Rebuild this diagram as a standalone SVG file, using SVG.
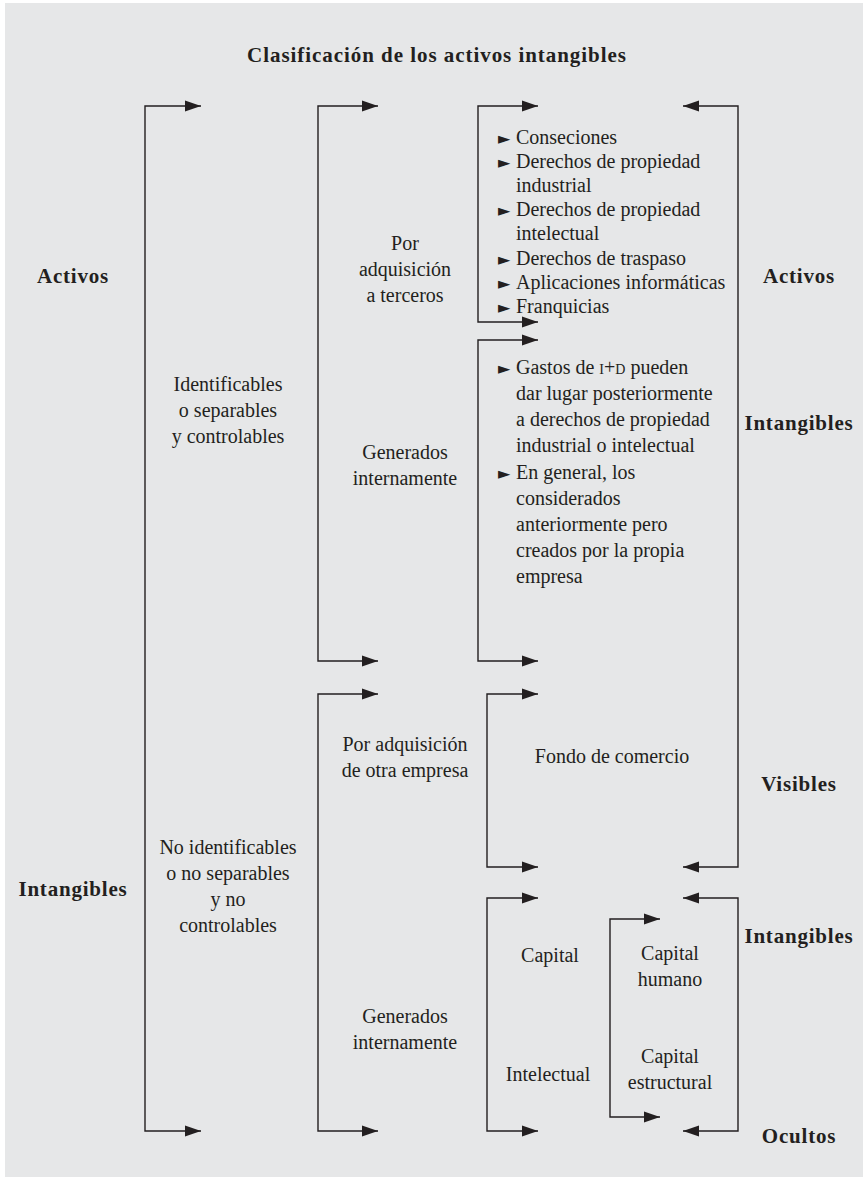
<svg xmlns="http://www.w3.org/2000/svg" width="865" height="1178" viewBox="0 0 865 1178">
  <style>
    .bg { fill: #e6e7e8; }
    .br { fill: none; stroke: #231f20; stroke-width: 1.4; marker-start: url(#ah); marker-end: url(#ah); }
    text { font-family: "Liberation Serif", "Times New Roman", serif; fill: #231f20; }
    .t { font-size: 20px; }
    .c { text-anchor: middle; }
    .b { font-weight: bold; font-size: 21px; letter-spacing: 0.8px; }
    .ttl { letter-spacing: 0.95px; }
    .bul { font-family: "DejaVu Sans", sans-serif; font-size: 16px; }
    .sc { font-variant: small-caps; }
  </style>
  <defs>
    <marker id="ah" viewBox="0 0 16 12" markerWidth="16" markerHeight="12" refX="16" refY="6" markerUnits="userSpaceOnUse" orient="auto-start-reverse">
      <path d="M0,0.5 L16,6 L0,11.5 z" fill="#231f20"/>
    </marker>
  </defs>

  <rect class="bg" x="5" y="3" width="858" height="1174"/>

  <text id="title" class="b ttl c" x="437" y="62">Clasificación de los activos intangibles</text>

  <!-- bracket connectors -->
  <g id="connectors">
    <path class="br" d="M201,106 H145 V1131 H201"/>
    <path class="br" d="M378,106 H318 V661 H378"/>
    <path class="br" d="M378,694 H318 V1131 H378"/>
    <path class="br" d="M538,106 H478 V322 H538"/>
    <path class="br" d="M538,340 H478 V661 H538"/>
    <path class="br" d="M538,694 H487 V867 H538"/>
    <path class="br" d="M538,898 H487 V1131 H538"/>
    <path class="br" d="M660,919 H610 V1117 H660"/>
    <path class="br" d="M683,106 H738 V867 H683"/>
    <path class="br" d="M683,898 H738 V1131 H683"/>
  </g>

  <!-- left column -->
  <g id="activos-left"><text class="b c" x="73" y="283">Activos</text></g>
  <g id="intangibles-left"><text class="b c" x="73" y="896">Intangibles</text></g>

  <!-- second column -->
  <g id="identificables">
    <text class="t c" x="228" y="391">Identificables</text>
    <text class="t c" x="228" y="417">o separables</text>
    <text class="t c" x="228" y="443">y controlables</text>
  </g>
  <g id="no-identificables">
    <text class="t c" x="228" y="854">No identificables</text>
    <text class="t c" x="228" y="880">o no separables</text>
    <text class="t c" x="228" y="906">y no</text>
    <text class="t c" x="228" y="932">controlables</text>
  </g>

  <!-- third column -->
  <g id="adq-terceros">
    <text class="t c" x="405" y="250">Por</text>
    <text class="t c" x="405" y="276">adquisición</text>
    <text class="t c" x="405" y="302">a terceros</text>
  </g>
  <g id="generados-1">
    <text class="t c" x="405" y="459">Generados</text>
    <text class="t c" x="405" y="485">internamente</text>
  </g>
  <g id="adq-empresa">
    <text class="t c" x="405" y="751">Por adquisición</text>
    <text class="t c" x="405" y="777">de otra empresa</text>
  </g>
  <g id="generados-2">
    <text class="t c" x="405" y="1023">Generados</text>
    <text class="t c" x="405" y="1049">internamente</text>
  </g>

  <!-- fourth column -->
  <g id="lista-adquiridos">
    <text class="t" x="498" y="144"><tspan class="bul">►</tspan><tspan x="516">Conseciones</tspan></text>
    <text class="t" x="498" y="168"><tspan class="bul">►</tspan><tspan x="516">Derechos de propiedad</tspan></text>
    <text class="t" x="516" y="192">industrial</text>
    <text class="t" x="498" y="216"><tspan class="bul">►</tspan><tspan x="516">Derechos de propiedad</tspan></text>
    <text class="t" x="516" y="240">intelectual</text>
    <text class="t" x="498" y="265"><tspan class="bul">►</tspan><tspan x="516">Derechos de traspaso</tspan></text>
    <text class="t" x="498" y="289"><tspan class="bul">►</tspan><tspan x="516">Aplicaciones informáticas</tspan></text>
    <text class="t" x="498" y="313"><tspan class="bul">►</tspan><tspan x="516">Franquicias</tspan></text>
  </g>
  <g id="lista-generados">
    <text class="t" x="498" y="374"><tspan class="bul">►</tspan><tspan x="516">Gastos de <tspan class="sc">i+d</tspan> pueden</tspan></text>
    <text class="t" x="516" y="400">dar lugar posteriormente</text>
    <text class="t" x="516" y="426">a derechos de propiedad</text>
    <text class="t" x="516" y="452">industrial o intelectual</text>
    <text class="t" x="498" y="479"><tspan class="bul">►</tspan><tspan x="516">En general, los</tspan></text>
    <text class="t" x="516" y="505">considerados</text>
    <text class="t" x="516" y="531">anteriormente pero</text>
    <text class="t" x="516" y="557">creados por la propia</text>
    <text class="t" x="516" y="583">empresa</text>
  </g>
  <g id="fondo"><text class="t c" x="612" y="763">Fondo de comercio</text></g>
  <g id="capital-intelectual">
    <text class="t c" x="550" y="962">Capital</text>
    <text class="t c" x="548" y="1081">Intelectual</text>
  </g>
  <g id="capital-humano">
    <text class="t c" x="670" y="960">Capital</text>
    <text class="t c" x="670" y="986">humano</text>
  </g>
  <g id="capital-estructural">
    <text class="t c" x="670" y="1063">Capital</text>
    <text class="t c" x="670" y="1089">estructural</text>
  </g>

  <!-- right column -->
  <g id="activos-right"><text class="b c" x="799" y="283">Activos</text></g>
  <g id="intangibles-right-1"><text class="b c" x="799" y="430">Intangibles</text></g>
  <g id="visibles"><text class="b c" x="799" y="791">Visibles</text></g>
  <g id="intangibles-right-2"><text class="b c" x="799" y="943">Intangibles</text></g>
  <g id="ocultos"><text class="b c" x="799" y="1143">Ocultos</text></g>
</svg>
